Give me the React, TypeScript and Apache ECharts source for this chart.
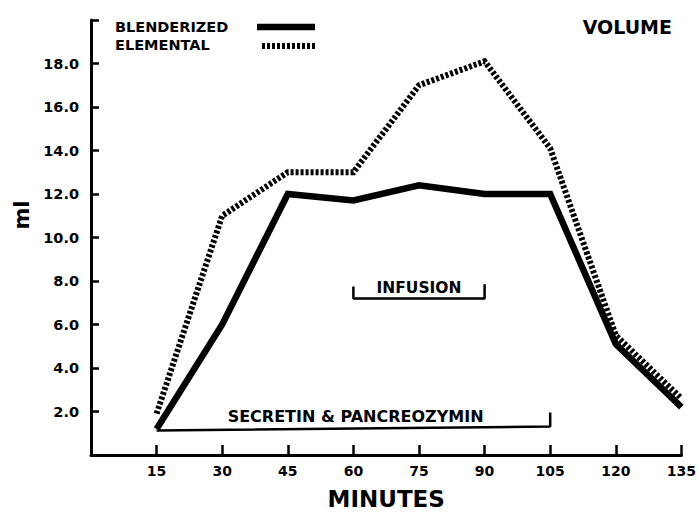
import React, { useEffect, useRef } from "react";
import * as echarts from "echarts";

const minutes = [15, 30, 45, 60, 75, 90, 105, 120, 135];
const blenderized = [1.2, 6.0, 12.0, 11.7, 12.4, 12.0, 12.0, 5.1, 2.2];
const elemental = [1.9, 11.0, 13.0, 13.0, 17.0, 18.1, 14.1, 5.5, 2.6];
const xTickValues = [15, 30, 45, 60, 75, 90, 105, 120, 135];
const yTickLabels = ["2.0", "4.0", "6.0", "8.0", "10.0", "12.0", "14.0", "16.0", "18.0"];
const infusionBracket = [[60, 7.75], [60, 7.2], [90, 7.2], [90, 7.85]];
const secretinBracket = [[15, 1.13], [105, 1.31], [105, 1.95]];
const infusionLabelPos = [75, 7.7];
const secretinLabelPos = [60.5, 1.75];
const legendNames = ["BLENDERIZED", "ELEMENTAL"];

const FONT = "DejaVu Sans";
const INK = "#000";
const DOTS = [3, 2];

export default function App() {
  const ref = useRef<HTMLDivElement>(null);
  useEffect(() => {
    if (!ref.current) return;
    const chart = echarts.init(ref.current, null, { renderer: "svg" });
    const pairs = (vals: number[]) => minutes.map((m, i) => [m, vals[i]]);
    const legendText = (t: string, y: number) => ({
      type: "text",
      x: 115,
      y,
      style: {
        text: t,
        fontFamily: FONT,
        fontWeight: "bold",
        fontSize: 14.5,
        fill: INK,
        align: "left",
        verticalAlign: "middle",
      },
    });
    chart.setOption({
      animation: false,
      backgroundColor: "#fff",
      title: {
        text: "VOLUME",
        right: 22,
        top: 12,
        textStyle: { fontFamily: FONT, fontWeight: "bold", fontSize: 19, color: INK },
      },
      grid: { left: 91, right: 13, top: 20, bottom: 53 },
      xAxis: {
        type: "value",
        min: 0,
        max: 135,
        interval: 15,
        splitLine: { show: false },
        axisLine: { lineStyle: { color: INK, width: 3 } },
        axisTick: { inside: true, length: 10, lineStyle: { color: INK, width: 2.5 } },
        axisLabel: {
          margin: 9,
          fontFamily: FONT,
          fontWeight: "bold",
          fontSize: 14,
          color: INK,
          formatter: (v: number) => (xTickValues.includes(v) ? String(v) : ""),
        },
        name: "MINUTES",
        nameLocation: "middle",
        nameGap: 32,
        nameTextStyle: { fontFamily: FONT, fontWeight: "bold", fontSize: 23, color: INK },
      },
      yAxis: {
        type: "value",
        min: 0,
        max: 20,
        interval: 2,
        splitLine: { show: false },
        axisLine: { lineStyle: { color: INK, width: 3 } },
        axisTick: { inside: true, length: 8, lineStyle: { color: INK, width: 2.5 } },
        axisLabel: {
          margin: 12,
          fontFamily: FONT,
          fontWeight: "bold",
          fontSize: 14.5,
          color: INK,
          formatter: (v: number) => {
            const s = v.toFixed(1);
            return yTickLabels.includes(s) ? s : "";
          },
        },
      },
      graphic: [
        {
          type: "text",
          x: 22,
          y: 215,
          rotation: Math.PI / 2,
          style: {
            text: "ml",
            fontFamily: FONT,
            fontWeight: "bold",
            fontSize: 21,
            fill: INK,
            align: "center",
            verticalAlign: "middle",
          },
        },
        legendText(legendNames[0], 27),
        legendText(legendNames[1], 45),
        {
          type: "line",
          shape: { x1: 257, y1: 27, x2: 315, y2: 27 },
          style: { stroke: INK, lineWidth: 6.5 },
        },
        {
          type: "line",
          shape: { x1: 262, y1: 46, x2: 315, y2: 46 },
          style: { stroke: INK, lineWidth: 6, lineDash: DOTS },
        },
      ],
      series: [
        {
          name: legendNames[1],
          type: "line",
          data: pairs(elemental),
          symbol: "none",
          z: 2,
          color: INK,
          lineStyle: { color: INK, width: 6, type: DOTS, cap: "butt", join: "miter" },
        },
        {
          name: legendNames[0],
          type: "line",
          data: pairs(blenderized),
          symbol: "none",
          z: 3,
          color: INK,
          lineStyle: { color: INK, width: 6.5, type: "solid", cap: "butt", join: "miter" },
        },
        {
          name: "infusion",
          type: "line",
          data: infusionBracket,
          symbol: "none",
          silent: true,
          lineStyle: { color: INK, width: 2.5 },
        },
        {
          name: "secretin",
          type: "line",
          data: secretinBracket,
          symbol: "none",
          silent: true,
          lineStyle: { color: INK, width: 2.5 },
        },
        {
          name: "labels",
          type: "scatter",
          symbolSize: 0,
          silent: true,
          itemStyle: { opacity: 1, color: INK },
          data: [
            { value: infusionLabelPos, label: { formatter: "INFUSION", fontSize: 15.5 } },
            { value: secretinLabelPos, label: { formatter: "SECRETIN & PANCREOZYMIN", fontSize: 16 } },
          ],
          label: {
            show: true,
            position: "inside",
            fontFamily: FONT,
            fontWeight: "bold",
            fontSize: 15,
            color: INK,
            opacity: 1,
            textBorderWidth: 0,
          },
        },
      ],
    });
    return () => chart.dispose();
  }, []);
  return (
    <div
      ref={ref}
      style={{ position: "absolute", left: 0, top: 0, width: 699, height: 515, background: "#fff" }}
    />
  );
}
